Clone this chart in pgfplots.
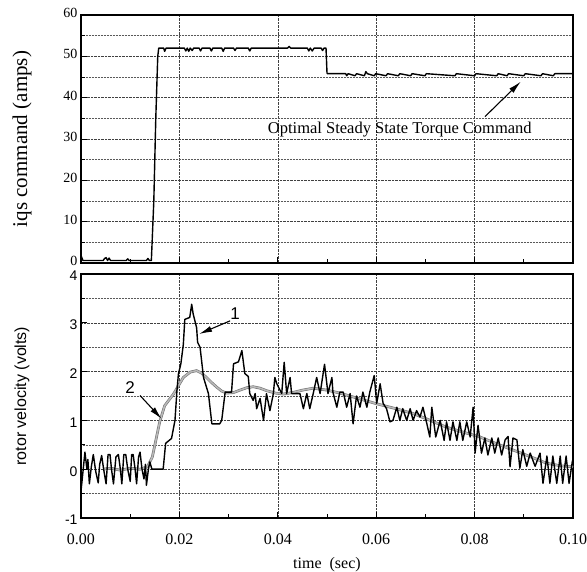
\documentclass[border=0pt]{standalone}
\usepackage{fontspec}
\setmainfont{Liberation Serif}
\setsansfont{Liberation Sans}
\usepackage{pgfplots}
\pgfplotsset{compat=1.18}
\usetikzlibrary{arrows.meta}

\tikzset{
  pointer/.style={-{Latex[length=13pt,width=6pt]}, line width=1.1pt},
}
\pgfplotsset{
  panel/.style={
    scale only axis, width=492pt,
    xmin=0, xmax=0.1,
    axis line style={line width=1.3pt},
    tick align=inside, xtick pos=left, ytick pos=left,
    xtick={0,0.02,0.04,0.06,0.08,0.1}, minor x tick num=1,
    minor y tick num=1,
    xmajorgrids, ymajorgrids, yminorgrids,
    grid style={densely dotted, black!75, line width=0.5pt},
    minor grid style={densely dotted, black!65, line width=0.5pt},
    tick style={black, line width=0.8pt},
    major tick length=6pt, minor tick length=4pt,
    /pgf/number format/assume math mode=true,
    ylabel style={at={(axis description cs:-0.12,0.5)}, anchor=center},
  },
  curve/.style={black, line width=1.4pt, line join=round},
  smooth curve/.style={gray!90!black, double=gray!55, double distance=1.5pt, line width=0.6pt},
}

\begin{document}
\begin{tikzpicture}[x=1pt,y=1pt]
\path[use as bounding box] (0,0) rectangle (587,-572);

% top panel: current command
\begin{axis}[panel,
  at={(81pt,-15pt)}, anchor=north west, height=248pt,
  ymin=0, ymax=60, ytick={0,10,...,60},
  xticklabels={},
  yticklabel style={font=\fontsize{14}{16}\selectfont, yshift=2pt},
  ylabel={iqs command (amps)},
  ylabel style={font=\fontsize{21}{24}\selectfont},
]
\addplot[curve] coordinates {
(0,1.8)(0.0004,0.6)(0.0045,0.6)(0.0048,1.1)(0.0051,1.3)(0.0054,0.6)(0.0057,1.2)(0.0060,0.6)
(0.0092,0.6)(0.0095,1.0)(0.0098,0.6)(0.0133,0.6)(0.0136,1.1)(0.0139,0.6)(0.0143,0.6)
(0.0148,15)(0.0152,35)(0.0156,50)(0.0158,52)(0.0168,52)(0.0170,51.2)(0.0173,52)
(0.0210,52)(0.0213,51.3)(0.0216,52)(0.0219,51.2)(0.0222,52)(0.0226,51.4)(0.0229,52)
(0.0240,52)(0.0243,51.3)(0.0246,52)(0.0262,52)(0.0265,51.3)(0.0268,52)(0.0286,52)
(0.0289,51.2)(0.0292,52)(0.0310,52)(0.0313,51.4)(0.0316,52)(0.0340,52)(0.0343,51.3)
(0.0346,52)(0.0420,52)(0.0423,52.4)(0.0426,52)(0.0460,52)(0.0463,51.3)(0.0466,52)
(0.0470,51.3)(0.0474,52)(0.0488,52)(0.0491,51.4)(0.0494,52)(0.0498,52)(0.0500,46)
(0.0501,45.8)(0.0538,45.8)(0.0540,45.3)(0.0543,45.8)(0.0557,45.3)(0.0560,45.8)
(0.0576,45.3)(0.0579,46.3)(0.0582,45.8)(0.0596,45.3)(0.0599,45.8)(0.0620,45.3)
(0.0623,45.8)(0.0645,45.3)(0.0648,45.8)(0.0670,45.3)(0.0673,45.8)(0.0699,45.3)
(0.0702,45.8)(0.0760,45.3)(0.0763,45.8)(0.0800,45.3)(0.0803,45.8)(0.0845,45.3)
(0.0848,45.8)(0.0866,45.3)(0.0869,45.8)(0.0900,45.3)(0.0903,45.8)(0.0935,45.3)
(0.0938,45.8)(0.0960,45.3)(0.0963,45.8)(0.1,45.8)
};
\node[font=\fontsize{16.5}{19}\selectfont] at (axis cs:0.0648,32.2)
  {Optimal Steady State Torque Command};
\draw[pointer] (axis cs:0.0821,35.4) -- (axis cs:0.0894,43.9);
\end{axis}

% bottom panel: rotor velocity
\begin{axis}[panel,
  at={(81pt,-274pt)}, anchor=north west, height=244pt,
  ymin=-1, ymax=4, ytick={-1,0,1,2,3,4},
  xticklabel style={font=\fontsize{16}{18}\selectfont, yshift=-12pt},
  xticklabel={\pgfmathprintnumber[fixed,fixed zerofill,precision=2]{\tick}},
  yticklabel style={font=\sffamily\fontsize{14}{16}\selectfont, yshift=-2pt},
  xlabel={time\ \ (sec)},
  xlabel style={font=\fontsize{16}{19}\selectfont, inner sep=0pt, yshift=-9pt},
  ylabel={rotor velocity (volts)},
  ylabel style={font=\sffamily\fontsize{16}{19}\selectfont},
]
\addplot[smooth curve] coordinates {
(0.0045,0)(0.006,0.02)(0.008,-0.02)(0.010,0.02)(0.0120,0.0)(0.0135,0.05)(0.0145,0.25)
(0.0160,0.97)(0.0170,1.3)(0.0188,1.54)(0.0208,1.88)(0.0222,1.99)(0.0235,2.02)
(0.0245,1.97)(0.0255,1.88)(0.0266,1.77)(0.0276,1.68)(0.0286,1.6)(0.0296,1.56)
(0.0310,1.57)(0.0323,1.62)(0.0337,1.67)(0.0350,1.69)(0.0364,1.66)(0.0377,1.61)
(0.0395,1.56)(0.0411,1.54)(0.0430,1.57)(0.0450,1.62)(0.0472,1.66)(0.0500,1.62)
(0.0526,1.56)(0.0560,1.46)(0.0601,1.34)(0.0640,1.24)(0.0675,1.14)(0.0710,1.0)
(0.0743,0.86)(0.0780,0.75)(0.0811,0.66)(0.0845,0.52)(0.0879,0.39)(0.0915,0.25)
(0.0947,0.12)(0.0975,0.07)(0.1000,0.05)
};
\addplot[curve] coordinates {
(0,-0.45)(0.0008,0.35)(0.0012,0.0)(0.0014,0.2)(0.0017,-0.3)(0.0021,0.05)(0.0025,0.3)
(0.0030,-0.05)(0.0035,-0.28)(0.0038,0.1)(0.0042,0.28)(0.0046,0.0)(0.0051,-0.3)
(0.0055,0.3)(0.0059,0.3)(0.0062,0.0)(0.0066,-0.3)(0.0071,0.25)(0.0076,0.3)(0.0080,0.0)
(0.0083,-0.3)(0.0087,0.3)(0.0091,0.3)(0.0095,0.0)(0.0100,-0.25)(0.0103,0.3)(0.0106,0.3)
(0.0110,0.0)(0.0113,-0.3)(0.0117,0.25)(0.0120,0.35)(0.0124,0.0)(0.0128,-0.2)(0.0131,0.1)
(0.0133,-0.33)(0.0137,0.0)(0.0140,0.15)(0.0144,0.0)(0.0167,0.0)(0.0172,0.53)(0.0184,0.63)
(0.0191,1.0)(0.0195,1.61)(0.0198,1.95)(0.0203,2.16)(0.0208,2.56)(0.0211,3.07)(0.0221,3.11)
(0.0225,3.38)(0.0228,3.18)(0.0235,2.9)(0.0237,2.6)(0.0242,2.5)(0.0249,1.88)(0.0259,1.55)
(0.0266,0.93)(0.0282,0.93)(0.0286,1.0)(0.0293,1.58)(0.0306,1.58)(0.0310,2.16)(0.0320,2.2)
(0.0327,2.43)(0.0333,1.96)(0.0340,1.9)(0.0343,1.55)(0.0350,1.41)(0.0354,1.55)(0.0357,1.24)
(0.0364,1.45)(0.0371,1.0)(0.0377,1.55)(0.0384,1.2)(0.0391,1.55)(0.0394,1.88)(0.0398,1.75)
(0.0408,1.55)(0.0413,2.19)(0.0418,1.55)(0.0425,1.88)(0.0428,1.55)(0.0445,1.55)(0.0452,1.24)
(0.0459,1.55)(0.0465,1.24)(0.0472,1.55)(0.0479,1.88)(0.0486,1.55)(0.0495,2.15)(0.0502,1.55)
(0.0510,1.88)(0.0512,1.58)(0.0520,1.27)(0.0526,1.58)(0.0533,1.58)(0.0540,1.27)(0.0547,1.55)
(0.0553,0.93)(0.0560,1.5)(0.0567,1.27)(0.0573,1.58)(0.0581,1.27)(0.0587,1.58)(0.0596,1.92)
(0.0601,1.35)(0.0608,1.75)(0.0614,1.35)(0.0621,1.24)(0.0628,0.97)(0.0634,1.0)(0.0642,1.27)
(0.0648,1.0)(0.0654,1.24)(0.0662,1.0)(0.0669,1.24)(0.0675,1.0)(0.0682,1.2)(0.0689,1.07)
(0.0695,1.27)(0.0703,0.93)(0.0709,0.66)(0.0713,1.27)(0.0721,0.66)(0.0730,1.0)(0.0738,0.59)
(0.0743,0.97)(0.0750,0.59)(0.0756,0.97)(0.0764,0.59)(0.0770,0.97)(0.0776,0.59)(0.0784,0.97)
(0.0791,0.66)(0.0797,1.27)(0.0801,0.33)(0.0807,0.9)(0.0814,0.33)(0.0821,0.64)(0.0827,0.29)
(0.0835,0.64)(0.0841,0.33)(0.0848,0.64)(0.0855,0.29)(0.0862,0.6)(0.0868,0.67)(0.0872,0.05)
(0.0878,0.64)(0.0886,0.6)(0.0892,0.02)(0.0898,0.4)(0.0906,0.06)(0.0913,0.33)(0.0923,0.06)
(0.0933,0.33)(0.0939,-0.29)(0.0947,0.27)(0.0953,-0.29)(0.0959,0.27)(0.0967,-0.29)
(0.0974,0.27)(0.0979,-0.29)(0.0986,0.27)(0.0992,-0.29)(0.0999,0.18)
};
\node[font=\sffamily\fontsize{17}{19}\selectfont] at (axis cs:0.0100,1.67) {2};
\draw[pointer] (axis cs:0.0120,1.51) -- (axis cs:0.0164,1.03);
\node[font=\sffamily\fontsize{17}{19}\selectfont] at (axis cs:0.0313,3.18) {1};
\draw[pointer] (axis cs:0.0303,3.04) -- (axis cs:0.0240,2.77);
\end{axis}
\end{tikzpicture}
\end{document}
